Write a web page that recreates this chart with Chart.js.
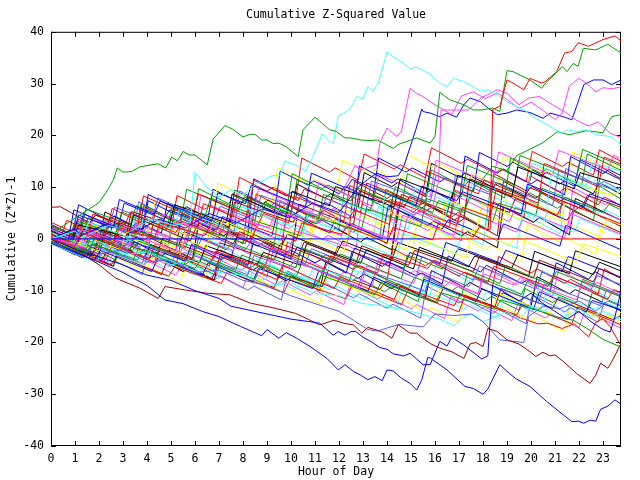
<!DOCTYPE html>
<html>
<head>
<meta charset="utf-8">
<script src="https://cdn.jsdelivr.net/npm/chart.js@4.4.0/dist/chart.umd.min.js"></script>
<style>
    html, body { margin: 0; padding: 0; background: #ffffff; }
    canvas { display: block; }
</style>
</head>
<body>
<canvas id="zChart" width="640" height="480"></canvas>
<script>
const chartTitle = "Cumulative Z-Squared Value";
const xTitle = "Hour of Day";
const yTitle = "Cumulative (Z*Z)-1";
const hourTicks = [0, 1, 2, 3, 4, 5, 6, 7, 8, 9, 10, 11, 12, 13, 14, 15, 16, 17, 18, 19, 20, 21, 22, 23];
const valueTicks = [-40, -30, -20, -10, 0, 10, 20, 30, 40];

// each series: [hour, cumulative value] vertices
const zeroBlue = [[0, 0], [15.8, 0]];
const zeroRed = [[15.8, 0], [23.75, 0]];

const greenHigh = [[0, 1], [0.5, 2.5], [1, 4], [1.5, 5.5], [2, 7], [2.3, 9], [2.6, 11.4], [2.76, 13.7], [3.0, 12.9], [3.36, 13.0], [3.7, 13.9], [4.05, 14.2], [4.47, 14.5], [4.78, 13.7], [5.03, 15.8], [5.26, 15.1], [5.51, 16.9], [5.75, 16.2], [6.0, 16.2], [6.51, 14.3], [6.76, 19.3], [7.25, 21.9], [7.6, 21.1], [8.0, 19.7], [8.3, 20.2], [8.5, 20.2], [8.78, 19.1], [9.0, 19.1], [9.26, 18.4], [9.5, 18.5], [9.82, 17.7], [10.3, 15.9], [10.5, 21.1], [11.0, 23.5], [11.28, 22.4], [11.6, 21.1], [11.87, 20.8], [12.25, 19.5], [12.5, 19.5], [12.9, 19.1], [13.3, 19.0], [13.6, 19.1], [14.26, 17.5], [14.5, 18.3], [15.24, 19.5], [15.8, 18.5], [16.0, 19.8], [16.2, 28.3], [16.6, 26.9], [17.2, 25.9], [17.6, 24.9], [17.95, 24.9], [18.4, 25.3], [18.7, 24.6], [19.0, 32.5], [19.25, 32.3], [19.96, 30.7], [20.45, 29.1], [20.6, 30.1], [21.07, 32.1], [21.3, 33.3], [21.5, 32.3], [21.76, 33.9], [21.96, 33.3], [22.18, 36.8], [22.7, 36.5], [23.2, 37.6], [23.75, 35.9]];
const redJump = [[0, 0], [1, -1.5], [1.25, 1.2], [2.6, -0.9], [2.85, 2.1], [4.3, 0.2], [4.55, 3.1], [6.4, 0.6], [6.65, 2.8], [8.3, -0.7], [8.55, 2.2], [10.2, -0.4], [10.45, 3.1], [12.1, 0.9], [12.35, 2.4], [14.0, -0.8], [14.25, 2.2], [15.9, -0.2], [16.15, 3.1], [17.6, 0.4], [17.85, 2.3], [18.3, 1.7], [18.4, 25.0], [18.7, 25.6], [19.0, 30.7], [19.25, 30.1], [19.7, 28.8], [19.96, 31.0], [20.45, 30.1], [20.6, 30.4], [21.07, 32.3], [21.4, 35.9], [21.7, 36.2], [21.97, 37.9], [22.4, 37.2], [23.0, 38.5], [23.5, 39.2], [23.75, 38.2]];
const cyanPeak = [[0, 0], [1, 1.5], [1.25, 0.2], [2.4, 2.6], [3.3, 1.4], [4.2, 3.9], [5.1, 2.6], [5.8, 3.2], [6.0, 12.8], [6.5, 10.0], [7.0, 8.1], [7.5, 9.5], [8.0, 8.5], [8.5, 10.5], [8.9, 11.4], [9.2, 12.2], [9.54, 12.2], [9.75, 15.1], [10.0, 14.6], [10.4, 13.9], [10.6, 13.0], [10.9, 15.7], [11.3, 20.3], [11.55, 19.1], [11.76, 18.4], [11.97, 23.8], [12.2, 24.3], [12.46, 25.1], [12.74, 27.5], [13.0, 27.0], [13.2, 29.4], [13.4, 28.6], [13.64, 30.1], [14.0, 36.1], [14.26, 35.2], [14.7, 33.9], [14.96, 32.9], [15.24, 33.2], [15.8, 31.8], [16.2, 30.1], [16.5, 29.4], [16.76, 31.0], [17.2, 30.4], [17.6, 29.4], [17.9, 28.5], [18.2, 28.8], [18.6, 27.8], [19.0, 26.5], [19.7, 24.9], [20.2, 23.3], [20.8, 21.7], [21.3, 20.4], [21.5, 21.1], [21.9, 20.7], [22.3, 21.1], [22.7, 20.1], [23.3, 19.8], [23.75, 18.2]];
const magentaHigh = [[0, 0], [1, -1.2], [1.25, 1.8], [2.8, -0.4], [3.05, 2.4], [4.9, 0.3], [5.15, 3.1], [7, 1.2], [7.25, 4.2], [9.1, 2.2], [9.35, 5.3], [11.2, 3.1], [11.45, 6.4], [12.2, 9.6], [12.67, 14.2], [12.9, 13.3], [13.15, 13.7], [13.57, 14.3], [13.7, 18.5], [14.0, 21.4], [14.4, 19.8], [14.6, 20.7], [14.96, 29.1], [15.24, 28.1], [15.5, 27.5], [15.8, 26.5], [16.3, 25.1], [16.7, 24.0], [17.1, 27.6], [17.6, 28.4], [18.1, 27.1], [18.6, 28.2], [19.0, 26.9], [19.5, 25.2], [20.0, 26.4], [20.5, 24.8], [21.0, 23.1], [21.3, 24.2], [21.6, 29.6], [22.0, 31.0], [22.3, 30.1], [22.7, 28.4], [23.0, 29.2], [23.4, 29.0], [23.75, 29.4]];
const magentaLate = [[0, 0.4], [1.3, -1.6], [1.55, 1.1], [3.2, -1.9], [3.45, 0.7], [5.4, -2.6], [5.65, 0.9], [7.6, -2.3], [7.85, 0.4], [9.9, -2.8], [10.15, 1.6], [12.3, -1.4], [12.55, 2.6], [14.6, -0.9], [14.85, 4.2], [15.9, 6.1], [16.15, 11.2], [16.25, 24.9], [17.4, 24.9], [17.9, 27.2], [18.6, 28.8], [19.0, 28.1], [19.5, 25.9], [19.9, 27.2], [20.35, 27.5], [20.9, 25.9], [21.4, 24.6], [21.9, 22.9], [22.4, 21.8], [22.8, 22.6], [23.3, 20.4], [23.75, 19.6]];
const blueHigh = [[0, 0], [1, 2], [1.25, 0.6], [2.3, 2.9], [3.4, 1.1], [4.5, 3.8], [5.6, 2.1], [6.6, 4.9], [7.7, 3.0], [8.8, 5.8], [9.9, 4.1], [10.9, 6.9], [12.0, 5.1], [12.8, 10.0], [13.2, 11.5], [13.57, 12.7], [14.0, 12.0], [14.47, 12.2], [14.7, 14.0], [15.2, 21.1], [15.45, 25.1], [15.5, 24.6], [15.8, 24.3], [16.2, 23.6], [16.5, 24.3], [16.9, 23.5], [17.2, 25.9], [17.46, 27.2], [17.9, 26.5], [18.2, 25.3], [18.6, 24.0], [19.0, 24.3], [19.4, 24.9], [19.96, 24.4], [20.5, 23.3], [20.8, 24.3], [21.35, 23.6], [21.7, 23.0], [21.9, 25.6], [22.2, 29.8], [22.6, 30.7], [23.0, 30.7], [23.36, 29.8], [23.75, 30.7]];
const greenLate = [[0, -0.5], [1.4, -2.9], [1.65, 0.3], [3.3, -2.1], [3.55, 1.6], [5.6, -1.8], [5.85, 2.4], [8.1, -0.9], [8.35, 3.7], [10.4, 0.6], [10.65, 4.9], [12.9, 1.3], [13.15, 5.8], [15.4, 2.4], [15.65, 7.8], [17.2, 5.1], [17.6, 9.8], [18.0, 11.6], [18.4, 14.0], [19.0, 13.2], [19.4, 16.1], [20.0, 17.4], [20.5, 18.6], [21.1, 20.7], [21.6, 20.1], [22.3, 20.9], [23.0, 20.5], [23.36, 23.6], [23.75, 24.0]];
const blueLowest = [[0, 0], [0.5, -1.5], [1, -2.5], [2, -4.5], [3, -6.5], [4, -9], [4.75, -11.8], [5.5, -12.5], [6.3, -14], [7, -15], [7.46, -16.0], [7.9, -16.9], [8.78, -18.7], [9.0, -17.5], [9.5, -19.2], [9.8, -18.1], [10.24, -19.2], [10.8, -20.8], [11.5, -23.1], [11.97, -25.3], [12.25, -24.3], [12.6, -25.6], [12.9, -26.3], [13.2, -27.2], [13.5, -26.6], [13.8, -27.4], [14.0, -25.3], [14.26, -25.5], [14.6, -26.9], [14.96, -27.9], [15.24, -29.2], [15.45, -27.2], [15.7, -22.9], [15.8, -23.0], [16.5, -25.3], [17.25, -28.5], [17.6, -28.9], [18.0, -30.0], [18.2, -29.0], [18.7, -24.3], [19.1, -26.0], [19.4, -27.1], [19.96, -28.5], [20.65, -31.4], [21.35, -34.0], [21.7, -35.3], [21.97, -35.2], [22.2, -35.6], [22.46, -35.0], [22.7, -35.2], [22.9, -32.9], [23.2, -32.3], [23.5, -31.1], [23.75, -31.9]];
const blueLow = [[0, 0], [1, -2], [2, -3.5], [3, -5], [4, -7], [5, -8], [6, -10], [7, -11.5], [7.5, -13], [9, -14.5], [10, -15.5], [10.8, -16.0], [11.2, -16.3], [11.76, -18.6], [11.97, -17.9], [12.25, -18.6], [12.5, -17.9], [12.7, -17.9], [13.0, -19.0], [13.4, -20.0], [13.7, -21.0], [14.0, -21.3], [14.26, -22.2], [14.7, -22.6], [14.96, -22.1], [15.24, -23.2], [15.5, -24.3], [15.8, -24.3], [16.2, -19.8], [16.5, -20.7], [16.7, -19.0], [17.2, -20.5], [17.95, -23.2], [18.2, -22.6], [18.4, -9], [18.8, -10], [19.5, -12], [20, -10.5], [20.5, -12.5], [21, -14], [21.5, -15.5], [22, -14], [22.5, -16], [23, -17.5], [23.3, -18], [23.5, -15], [23.75, -10]];
const darkRedLow = [[0, 0], [1, -2], [2, -5], [2.7, -7.6], [3.7, -9.5], [4.47, -11.5], [4.75, -9.2], [5.5, -9.8], [6.5, -10.5], [7.46, -10.8], [8.3, -12.4], [9.25, -13.3], [10.2, -14.4], [11.2, -16.6], [11.8, -15.7], [12.2, -16.3], [12.6, -16.6], [12.95, -18.2], [13.2, -17.1], [13.57, -17.6], [13.9, -18.2], [14.2, -19.2], [14.47, -16.6], [14.96, -18.2], [15.24, -18.2], [15.5, -19.2], [15.8, -20.2], [16.2, -21.1], [16.7, -21.8], [17.2, -23.1], [17.46, -20.3], [17.7, -20.0], [18.0, -20.8], [18.2, -17.3], [18.6, -17.9], [19.0, -19.5], [19.5, -20.3], [19.96, -21.8], [20.2, -22.7], [20.5, -21.9], [20.8, -22.6], [21.0, -22.4], [21.35, -23.7], [21.9, -26.0], [22.46, -27.9], [22.7, -26.3], [22.9, -24.0], [23.2, -25.0], [23.4, -23.4], [23.75, -20.2]];
const slateLow = [[0, 0], [1, -1], [2, -3], [3, -2], [4, -4.5], [5, -4], [6, -6.5], [7, -6], [8, -8], [9, -9], [10, -11], [11, -12.5], [12, -14], [12.6, -15.7], [13.2, -17.5], [13.6, -17.8], [14.5, -16.5], [15.5, -17], [16, -14.5], [16.8, -14.8], [17.5, -14.5], [18, -16], [18.7, -19.5], [19.7, -20], [19.9, -15], [20.5, -13], [21.2, -13.5], [22, -12], [22.7, -14], [23.2, -12], [23.75, -13]];
const cyanLow = [[0, 0], [1, -1.5], [2, -0.5], [3, -3], [4, -2.5], [5, -5], [6, -4], [7, -6.5], [8, -7], [9, -9], [10, -8.5], [11, -10.5], [12, -11], [13, -12.5], [14, -13], [15, -14], [15.8, -15], [16.2, -15.5], [16.8, -16.8], [17.2, -15], [17.6, -14.5], [18, -16], [18.5, -15], [19, -14], [19.5, -15.5], [20, -13], [20.5, -14], [21, -12.5], [21.5, -15], [22, -13.5], [22.5, -15], [23, -14], [23.75, -15.5]];
const greenLow = [[0, 0], [1.5, -2.5], [1.75, -1], [3.6, -4.1], [3.85, -2], [6, -5.7], [6.25, -3.9], [8.5, -7.8], [8.75, -5.2], [11, -9.3], [11.25, -7], [13.5, -10.8], [13.75, -8.4], [16, -12.3], [16.25, -10.4], [18.5, -13.6], [18.75, -11.8], [20.5, -14.1], [21.0, -15.0], [21.75, -15.7], [22.3, -17.2], [23.0, -19.4], [23.75, -20.9]];
const redLow = [[0, 0.5], [1.8, -2.7], [2.05, 0.2], [4.3, -4.6], [4.55, -1.8], [6.8, -6.3], [7.05, -3.4], [9.4, -7.8], [9.65, -5.1], [11.8, -9.6], [12.05, -7.3], [14.3, -11.7], [14.55, -9.1], [16.8, -12.9], [17.05, -10.8], [19, -14.2], [19.7, -15.5], [20.3, -16.4], [20.7, -16.3], [21.3, -17.3], [21.8, -16.4], [22.4, -18.9], [22.7, -16.1], [23.0, -15.4], [23.3, -17], [23.75, -20.6]];

const walk01 = [[0, 1], [0.7, -0.6], [0.95, 2.4], [2.2, 0.1], [2.45, 4.2], [3.1, 2.9], [3.3, 5.1], [5.2, 1.2], [5.45, 3.4], [6.1, 2.3], [6.35, 6.8], [8.6, 2.4], [8.85, 4.9], [9.9, 3.1], [10.15, 8.2], [12.4, 3.9], [12.65, 5.6], [14.1, 2.8], [14.35, 7.3], [16.9, 2.6], [17.15, 6.1], [18.3, 4.2], [18.55, 9.5], [21.1, 4.6], [21.35, 7.2], [23.75, 2.9]];
const walk02 = [[0, 0.3], [1.6, -2.8], [1.85, 0.9], [3.4, -2.2], [3.65, -0.4], [5.9, -4.6], [6.15, 0.2], [7.3, -2.1], [7.55, -0.8], [10.2, -5.6], [10.45, -1.7], [11.8, -4.2], [12.05, -2.9], [14.6, -7.7], [14.85, -3.1], [16.3, -5.8], [16.55, -4.4], [18.7, -8.6], [18.95, -5.1], [20.8, -8.9], [21.05, -6.3], [23.75, -11.2]];
const walk03 = [[0, 2.1], [0.9, 0.3], [1.15, 4.6], [2.6, 2.1], [2.85, 7.6], [4.3, 4.8], [4.55, 7.3], [6.7, 3.4], [6.95, 8.9], [8.1, 6.8], [8.35, 10.4], [10.6, 6.1], [10.85, 12.7], [12.3, 9.8], [12.55, 11.5], [15.2, 6.4], [15.45, 10.2], [16.9, 7.4], [17.15, 9.1], [19.6, 4.8], [19.85, 10.6], [22.2, 6.2], [22.45, 8.7], [23.75, 6.5]];
const walk04 = [[0, 0.6], [2.1, -3.2], [2.35, -0.7], [4.4, -4.6], [4.65, -2.3], [5.7, -4.1], [5.95, -1.2], [8.8, -6.7], [9.05, -3.9], [10.1, -5.8], [10.35, -4.6], [12.9, -9.4], [13.15, -5.2], [15.1, -8.6], [15.35, -6.1], [17.8, -10.7], [18.05, -6.8], [19.3, -8.9], [19.55, -7.5], [21.9, -11.8], [22.15, -8.1], [23.75, -11.1]];
const walk05 = [[0, 1.2], [1.3, -1.1], [1.55, 3.2], [3.6, -0.3], [3.85, 4.1], [5.1, 1.8], [5.35, 5.7], [7.7, 1.3], [7.95, 6.4], [9.3, 3.8], [9.55, 5.9], [11.9, 1.6], [12.15, 7.2], [13.7, 4.4], [13.95, 8.8], [16.4, 3.7], [16.65, 9.3], [18.1, 6.6], [18.35, 8.2], [20.6, 3.9], [20.85, 12.4], [22.4, 9.7], [22.65, 11.3], [23.75, 9.2]];
const walk06 = [[0, 6.1], [0.4, 6.2], [1.6, 3.1], [1.85, 4.6], [3.7, 1.2], [3.95, 3.3], [5.8, -0.4], [6.05, 2.2], [7.6, -0.9], [7.85, 1.4], [10.3, -3.4], [10.55, -0.6], [12.7, -4.8], [12.95, -1.3], [14.9, -5.1], [15.15, -2.2], [17.6, -6.3], [17.85, -3.4], [20.1, -7.6], [20.35, -4.1], [22.6, -8.3], [22.85, -5.7], [23.75, -7.6]];
const walk07 = [[0, -0.2], [1.1, -2.3], [1.35, 0.6], [2.9, -2.1], [3.15, 1.4], [5.4, -2.8], [5.65, 2.7], [6.9, 0.2], [7.15, 3.6], [9.7, -1.4], [9.95, 1.9], [12.2, -2.6], [12.45, 2.3], [14.8, -2.1], [15.05, 0.8], [17.3, -3.7], [17.55, 1.8], [19.1, -1.2], [19.35, 0.4], [21.9, -4.6], [22.15, -0.9], [23.75, -3.4]];
const walk08 = [[0, -0.6], [1.4, -3.6], [1.65, -1.1], [3.8, -4.7], [4.05, -1.4], [5.3, -3.5], [5.55, -2.6], [8.2, -6.9], [8.45, -3.2], [9.9, -5.6], [10.15, -4.3], [12.8, -9.3], [13.05, -5.9], [15.6, -10.1], [15.85, -6.2], [17.4, -9.2], [17.65, -7.7], [20.3, -12.4], [20.55, -8.7], [22.9, -12.9], [23.15, -9.8], [23.75, -11]];
const walk09 = [[0, 1.6], [0.9, -0.4], [1.15, 2.7], [3.2, 0.4], [3.45, 4.6], [4.9, 2.2], [5.15, 6.6], [7.3, 3.1], [7.55, 8.7], [9.8, 4.3], [10.05, 9.2], [11.6, 6.4], [11.85, 10.1], [14.3, 6.2], [14.55, 11.6], [16.7, 7.8], [16.95, 12.3], [19.2, 8.1], [19.45, 13.9], [21.8, 9.7], [22.05, 12.8], [23.75, 10.4]];
const walk10 = [[0, -0.3], [2.3, -3.9], [2.55, -1.2], [4.1, -3.8], [4.35, -0.9], [6.6, -5.2], [6.85, -2.4], [8.9, -5.6], [9.15, -1.7], [11.4, -5.9], [11.65, -3.3], [13.6, -6.6], [13.85, -2.9], [15.7, -5.7], [15.95, -4.1], [18.2, -8.4], [18.45, -5.3], [20.7, -9.2], [20.95, -7.1], [23.2, -11.6], [23.45, -9.8], [23.75, -10.4]];
const walk11 = [[0, 0.8], [0.8, -0.5], [1.05, 3.4], [2.7, 1.1], [2.95, 5.2], [4.8, 1.7], [5.05, 6.3], [6.4, 4.1], [6.65, 7.9], [8.7, 4.2], [8.95, 6.8], [11.1, 2.9], [11.35, 8.6], [13.3, 5.4], [13.55, 9.8], [15.9, 5.1], [16.15, 7.4], [18.4, 3.3], [18.65, 6.9], [20.2, 4.6], [20.45, 9.8], [23, 5.1], [23.25, 6.7], [23.75, 5.6]];
const walk12 = [[0, -0.8], [1.8, -4.1], [2.05, -2.2], [4.2, -6.3], [4.45, -3.7], [6.3, -7.1], [6.55, -4.6], [8.4, -8.3], [8.65, -5.7], [10.9, -9.6], [11.15, -6.2], [13.2, -10.1], [13.45, -7.4], [15.3, -11.2], [15.55, -7.8], [17.7, -12.1], [17.95, -9.6], [20.1, -13.6], [20.35, -10.2], [22.3, -14.1], [22.55, -11.9], [23.75, -13.7]];
const walk13 = [[0, 0.1], [1.2, -1.9], [1.45, 1.6], [3.3, -1.3], [3.55, 2.9], [5.6, -0.8], [5.85, 3.7], [7.9, 0.2], [8.15, 2.3], [9.6, -0.3], [9.85, 4.4], [12.1, 0.6], [12.35, 3.1], [14.4, -0.4], [14.65, 4.6], [16.8, 0.7], [17.05, 5.9], [19.4, 1.3], [19.65, 3.6], [21.4, 0.2], [21.65, 4.9], [23.75, 0.9]];
const walk14 = [[0, -1], [1.9, -4.6], [2.15, -2.1], [3.9, -5.2], [4.15, -2.7], [6.2, -6.5], [6.45, -4.4], [8.3, -7.6], [8.55, -3.8], [10.7, -8.1], [10.95, -5.3], [12.6, -7.9], [12.85, -6.2], [15.4, -11.2], [15.65, -8.3], [17.9, -12.4], [18.15, -10.1], [20.4, -13.9], [20.65, -10.3], [22.7, -13.6], [22.95, -12.2], [23.75, -13.5]];
const walk15 = [[0, 2.4], [1.4, -0.2], [1.65, 2.1], [3.1, -0.1], [3.35, 5.3], [5.7, 1.6], [5.95, 4.2], [7.4, 1.9], [7.65, 7.1], [10.1, 3.2], [10.35, 6.7], [12.6, 2.6], [12.85, 9.3], [14.7, 6.1], [14.95, 8.2], [17.2, 4.1], [17.45, 11.6], [19.7, 7.8], [19.95, 9.9], [22.1, 5.8], [22.35, 8.4], [23.75, 6.1]];
const walk16 = [[0, 0.5], [2.4, -2.9], [2.65, 1.3], [4.6, -2.4], [4.85, 1.1], [6.5, -1.7], [6.75, 3.9], [9.1, -0.6], [9.35, 4.8], [11.7, 0.9], [11.95, 6.2], [13.9, 2.7], [14.15, 5.1], [16.2, 1.3], [16.45, 7.6], [18.8, 3.4], [19.05, 8.7], [21.3, 4.6], [21.55, 11.2], [23.4, 8.3], [23.75, 9.4]];
const walk17 = [[0, 1.3], [1.0, -0.7], [1.25, 3.7], [2.4, 1.9], [2.65, 6.1], [4.2, 3.4], [4.45, 7.9], [6.8, 3.2], [7.05, 6.3], [8.5, 3.6], [8.75, 8.4], [11.2, 4.4], [11.45, 7.8], [13.1, 4.7], [13.35, 11.2], [15.8, 7.1], [16.05, 12.3], [18.3, 8.6], [18.55, 10.9], [20.9, 6.4], [21.15, 13.1], [23.5, 9.4], [23.75, 10.2]];
const walk18 = [[0, -0.1], [1.7, -3.3], [1.95, -0.2], [3.9, -3.6], [4.15, -1.1], [6.2, -4.6], [6.45, -1.3], [8.6, -4.9], [8.85, -2.6], [10.4, -5.1], [10.65, -0.9], [12.9, -4.7], [13.15, -2.1], [15.1, -5.8], [15.35, -1.6], [17.4, -5.4], [17.65, -3.3], [19.9, -7.2], [20.15, -2.4], [22.6, -6.9], [22.85, -4.5], [23.75, -6.2]];
const walk19 = [[0, 3.2], [1.5, 0.1], [1.75, 4.8], [3.6, 1.9], [3.85, 8.3], [5.9, 4.1], [6.15, 8.7], [8.2, 4.6], [8.45, 11.3], [10.3, 7.4], [10.55, 9.6], [12.9, 5.1], [13.15, 10.8], [15.4, 6.6], [15.65, 13.1], [17.8, 8.7], [18.05, 11.4], [20.3, 6.9], [20.55, 14.6], [22.8, 10.1], [23.05, 15.8], [23.75, 14.4]];
const walk20 = [[0, -0.4], [1.3, -2.7], [1.55, -0.3], [3.4, -4.4], [3.65, -1.8], [5.5, -5.6], [5.75, -2.2], [7.7, -5.9], [7.95, -3.1], [10.2, -7.4], [10.45, -4.7], [12.4, -8.3], [12.65, -5.2], [14.9, -9.6], [15.15, -7.4], [17.1, -11.1], [17.35, -6.6], [19.6, -10.7], [19.85, -8.2], [21.9, -12.3], [22.15, -7.8], [23.75, -10.9]];
const walk21 = [[0, 0.4], [0.7, -0.8], [0.95, 5.6], [2.8, 2.1], [3.05, 6.9], [4.7, 3.8], [4.95, 5.6], [6.9, 1.7], [7.15, 4.3], [9.2, 0.6], [9.45, 5.4], [11.6, 1.2], [11.85, 3.8], [13.8, 0.1], [14.05, 6.4], [16.3, 1.9], [16.55, 3.7], [18.6, -0.3], [18.85, 2.9], [21.2, -1.4], [21.45, 2.6], [23.75, -2.1]];
const walk22 = [[0, 1.9], [1.9, -1.3], [2.15, 3.4], [4.4, -0.2], [4.65, 4.7], [6.6, 1.3], [6.85, 6.1], [9.2, 1.8], [9.45, 7.6], [11.5, 3.4], [11.75, 5.9], [14.2, 0.9], [14.45, 6.6], [16.6, 2.2], [16.85, 8.4], [19.1, 3.3], [19.35, 6.1], [21.6, 1.9], [21.85, 7.3], [23.75, 3.6]];
const walk23 = [[0, 0.2], [0.9, -1.4], [1.15, 0.9], [3.1, -3.2], [3.35, 0.4], [5.2, -3.1], [5.45, 1.9], [7.6, -2.2], [7.85, 0.6], [9.4, -2.1], [9.65, 3.2], [11.9, -1.4], [12.15, 0.8], [14.4, -3.6], [14.65, 1.1], [16.9, -2.9], [17.15, 2.6], [19.4, -1.8], [19.65, 5.2], [21.8, 1.3], [22.05, 3.9], [23.75, 0.7]];
const walk24 = [[0, -0.6], [2.1, -4.2], [2.35, -2.3], [4.6, -6.9], [4.85, -4.1], [6.7, -7.8], [6.95, -5.1], [9.3, -9.4], [9.55, -6.7], [11.3, -9.2], [11.55, -6.1], [13.7, -9.8], [13.95, -8.1], [16.1, -12.3], [16.35, -9.4], [18.5, -13.1], [18.75, -9.6], [20.9, -13.4], [21.15, -11.2], [23.4, -15.6], [23.75, -14.8]];
const walk25 = [[0, 1.1], [1.4, -1.2], [1.65, 2.8], [3.9, -0.7], [4.15, 3.2], [5.8, 0.6], [6.05, 5.1], [8.4, 0.9], [8.65, 3.6], [10.8, -0.6], [11.05, 4.8], [13.3, 0.7], [13.55, 2.9], [15.7, -1.4], [15.95, 4.2], [17.7, 1.1], [17.95, 6.7], [20.4, 2.3], [20.65, 4.6], [22.9, 0.4], [23.15, 3.8], [23.75, 2.7]];
const walk26 = [[0, 0], [1.6, -2.4], [1.85, 1.7], [3.7, -1.6], [3.95, 2.3], [6.1, -1.9], [6.35, 1.1], [8.1, -2.1], [8.35, -0.4], [10.6, -4.8], [10.85, -1.9], [12.7, -5.3], [12.95, -3.1], [15.2, -7.6], [15.45, -3.4], [17.6, -7.9], [17.85, -5.2], [20.2, -9.7], [20.45, -6.4], [22.5, -9.9], [22.75, -7.1], [23.75, -8.8]];
const walk27 = [[0, 0.9], [1.1, -1.1], [1.35, 1.9], [2.6, -0.2], [2.85, 3.1], [5.3, -1.3], [5.55, 1.4], [7.2, -1.7], [7.45, 2.8], [9.6, -1.4], [9.85, 0.9], [11.9, -2.8], [12.15, -0.4], [14.2, -4.1], [14.45, -0.7], [16.7, -4.3], [16.95, -1.9], [19.2, -5.6], [19.45, -3.1], [21.6, -6.7], [21.85, -2.3], [23.75, -5.4]];
const walk28 = [[0, -1], [2.5, -5.1], [2.75, -3.3], [4.9, -7.2], [5.15, -5.4], [7.1, -8.6], [7.35, -6.3], [9.7, -10.4], [9.95, -7.9], [12.3, -11.6], [12.55, -8.8], [14.6, -12.7], [14.85, -10.2], [17, -14.1], [17.25, -10.9], [19.4, -14.7], [19.65, -12.6], [21.7, -16.4], [21.95, -13.1], [23.75, -16.6]];
const walk29 = [[0, 2.6], [1.2, 0.4], [1.45, 5.8], [3.3, 2.7], [3.55, 6.4], [5.4, 3.1], [5.65, 9.6], [7.8, 5.4], [8.05, 8.1], [10, 4.8], [10.25, 11.4], [12.5, 7.3], [12.75, 9.9], [14.6, 6.2], [14.85, 12.6], [17.1, 8.1], [17.35, 14.2], [19.3, 10.4], [19.55, 16.1], [21.9, 11.8], [22.15, 17.3], [23.75, 14.1]];
const walk30 = [[0, -0.2], [1.3, -2.6], [1.55, 0.3], [3.2, -2.8], [3.45, -0.6], [5.6, -4.3], [5.85, -1.1], [7.5, -3.7], [7.75, 0.3], [10, -3.9], [10.25, -1.6], [12.4, -5.4], [12.65, -1.8], [14.7, -5.7], [14.95, -2.6], [16.2, -4.8], [16.45, -0.7], [18.7, -4.6], [18.95, -2.2], [21.3, -6.3], [21.55, -3.4], [23.75, -7.4]];
const walk31 = [[0, 1.4], [1.5, -0.9], [1.75, 3.9], [3.5, 0.8], [3.75, 6.2], [6, 2.1], [6.25, 8.4], [8.4, 4.1], [8.65, 9.7], [10.9, 5.2], [11.15, 10.9], [13.4, 6.3], [13.65, 12.4], [15.8, 8.1], [16.05, 15.2], [18.4, 10.6], [18.65, 16.8], [20.9, 12.2], [21.15, 17.1], [23.2, 13.4], [23.45, 16.2], [23.75, 15.4]];
const walk32 = [[0, 0.7], [1.2, -1.5], [1.45, 2.6], [3.2, -0.4], [3.45, 5.3], [5.3, 2.1], [5.55, 4.4], [7.4, 1.2], [7.65, 6.7], [9.9, 2.6], [10.15, 8.2], [12.4, 4.1], [12.65, 6.3], [14.9, 1.9], [15.15, 9.8], [17.3, 5.7], [17.55, 11.4], [19.8, 7.2], [20.05, 14.6], [22.3, 10.2], [22.55, 14.7], [23.75, 13.1]];
const walk33 = [[0, 0.3], [2, -2.9], [2.25, 0.6], [4.4, -3.3], [4.65, 0.2], [6.8, -3.6], [7.05, -0.8], [9.3, -4.1], [9.55, -0.9], [11.7, -4.6], [11.95, -1.4], [14.1, -5.2], [14.35, 1.6], [14.6, 8.6], [16.5, 4.9], [16.75, 9.2], [19.1, 5.1], [19.35, 7.8], [21.5, 3.6], [21.75, 5.4], [23.75, 1.2]];
const walk34 = [[0, -0.5], [1.8, -3.6], [2.05, -1.9], [4, -5.3], [4.25, -3.6], [6.4, -7.4], [6.65, -4.8], [8.7, -8.1], [8.95, -5.6], [11.2, -9.7], [11.45, -7.1], [13.6, -11.3], [13.85, -8.2], [16, -12.1], [16.25, -9.1], [18.4, -13.2], [18.65, -10.6], [20.8, -14.3], [21.05, -11.8], [23.3, -15.4], [23.75, -14.2]];
const walk35 = [[0, 0.2], [0.5, -0.9], [0.75, 1.8], [1.3, 0.6], [1.55, 4.1], [2.4, 2.2], [2.65, 3.0], [3.5, 0.9], [3.75, 6.8], [4.9, 4.1], [5.15, 5.2], [5.9, 3.3], [6.15, 9.7], [7.4, 6.8], [7.65, 8.3], [8.7, 5.9], [8.95, 7.1], [9.8, 4.8], [10.05, 12.6], [11.3, 9.7], [11.55, 10.4], [12.6, 7.9], [12.85, 8.8], [14.1, 5.6], [14.35, 10.1], [15.6, 7.2], [15.85, 13.3], [17.2, 10.1], [17.45, 11.4], [18.9, 7.9], [19.15, 15.6], [20.4, 12.7], [20.65, 13.5], [22.1, 10.2], [22.35, 16.4], [23.75, 13.2]];
const walk36 = [[0, -0.3], [0.6, -1.6], [0.85, -0.9], [1.9, -3.4], [2.15, 0.8], [3.1, -1.4], [3.35, -0.2], [4.6, -3.3], [4.85, -2.6], [5.6, -4.4], [5.85, -1.1], [7.1, -4.0], [7.35, -3.2], [8.2, -5.1], [8.45, -0.3], [9.7, -3.2], [9.95, -2.1], [11.0, -4.6], [11.25, -4.0], [12.3, -6.6], [12.55, -2.4], [13.8, -5.3], [14.05, -4.4], [15.2, -7.1], [15.45, -6.6], [16.3, -8.7], [16.55, -3.3], [17.9, -6.4], [18.15, -5.1], [19.6, -8.6], [19.85, -7.9], [20.8, -10.1], [21.05, -4.6], [22.4, -7.8], [22.65, -6.3], [23.75, -9.1]];
const walk37 = [[0, 0.9], [0.4, 0.0], [0.65, 3.6], [1.7, 1.3], [1.95, 2.1], [3.0, -0.3], [3.25, 1.2], [4.1, -0.9], [4.35, 5.4], [5.6, 2.6], [5.85, 3.3], [7.0, 0.7], [7.25, 2.4], [8.3, -0.1], [8.55, 8.7], [9.6, 6.1], [9.85, 6.9], [11.1, 3.8], [11.35, 5.6], [12.2, 3.4], [12.45, 10.3], [13.9, 6.9], [14.15, 7.6], [15.1, 5.1], [15.35, 6.2], [16.6, 3.1], [16.85, 9.4], [18.2, 6.2], [18.45, 7.1], [19.7, 4.1], [19.95, 12.2], [21.2, 9.1], [21.45, 9.9], [22.8, 6.6], [23.05, 8.1], [23.75, 6.4]];
const walk38 = [[0, 0.1], [0.9, -2.0], [1.15, -1.4], [2.0, -3.5], [2.25, 1.9], [3.3, -0.6], [3.55, 0.3], [4.8, -2.7], [5.05, -1.9], [5.9, -3.8], [6.15, 3.1], [7.2, 0.6], [7.45, 1.4], [8.6, -1.4], [8.85, -0.7], [10.0, -3.4], [10.25, 4.4], [11.6, 1.1], [11.85, 2.1], [12.9, -0.6], [13.15, 0.3], [14.2, -2.1], [14.45, 5.6], [15.7, 2.6], [15.95, 3.4], [17.1, 0.6], [17.35, 1.4], [18.6, -1.7], [18.85, 6.2], [20.1, 3.2], [20.35, 4.1], [21.6, 0.8], [21.85, 7.8], [23.75, 3.6]];
const walk39 = [[0, -0.7], [1.0, -2.7], [1.25, -2.1], [2.2, -4.3], [2.45, -0.6], [3.6, -3.4], [3.85, -2.6], [5.0, -5.4], [5.25, -1.3], [6.6, -4.4], [6.85, -3.6], [7.9, -6.1], [8.15, -5.4], [9.0, -7.3], [9.25, -2.2], [10.6, -5.3], [10.85, -4.4], [12.0, -7.1], [12.25, -6.3], [13.4, -8.9], [13.65, -3.8], [14.9, -6.9], [15.15, -6.1], [16.4, -9.1], [16.65, -8.2], [17.8, -10.6], [18.05, -5.6], [19.4, -8.8], [19.65, -8.0], [20.9, -11.1], [21.15, -5.9], [22.5, -9.2], [22.75, -8.4], [23.75, -10.6]];
const walk40 = [[0, 0.4], [0.7, -0.8], [0.95, 2.2], [2.1, -0.4], [2.35, 0.7], [3.2, -1.3], [3.45, 3.6], [4.7, 0.6], [4.95, 1.3], [6.0, -1.1], [6.25, 5.2], [7.6, 2.1], [7.85, 3.0], [9.0, 0.2], [9.25, 0.9], [10.4, -1.8], [10.65, 4.6], [12.0, 1.4], [12.25, 2.2], [13.4, -0.6], [13.65, 6.3], [15.0, 3.2], [15.25, 3.9], [16.6, 0.6], [16.85, 1.5], [18.0, -1.2], [18.25, 6.8], [19.6, 3.5], [19.85, 4.4], [21.2, 1.0], [21.45, 8.1], [22.8, 4.9], [23.05, 5.7], [23.75, 4.1]];
const walk41 = [[0, 0.5], [1.2, -1.9], [1.45, -1.0], [2.3, -2.9], [2.55, 2.6], [3.8, -0.4], [4.05, 0.4], [5.2, -2.3], [5.45, 4.9], [6.8, 1.8], [7.05, 2.6], [8.2, -0.2], [8.45, 0.8], [9.6, -2.1], [9.85, 6.6], [11.2, 3.3], [11.45, 4.2], [12.6, 1.3], [12.85, 2.2], [14.0, -0.9], [14.25, 8.4], [15.6, 5.2], [15.85, 6.1], [17.0, 3.2], [17.25, 4.1], [18.6, 0.6], [18.85, 11.1], [20.2, 7.9], [20.45, 8.8], [21.8, 5.4], [22.05, 6.3], [23.75, 2.4]];
const walk42 = [[0, -0.3], [0.8, -1.9], [1.05, 0.6], [2.4, -2.2], [2.65, -1.4], [3.6, -3.6], [3.85, 1.4], [5.1, -1.6], [5.35, -0.8], [6.4, -3.3], [6.65, 2.3], [7.9, -0.6], [8.15, 0.2], [9.3, -2.6], [9.55, -1.8], [10.6, -4.2], [10.85, 2.9], [12.2, -0.3], [12.45, 0.6], [13.6, -2.2], [13.85, -1.3], [15.0, -4.0], [15.25, 3.6], [16.6, 0.3], [16.85, 1.2], [18.1, -2.1], [18.35, -1.2], [19.6, -4.3], [19.85, 2.8], [21.2, -0.6], [21.45, 0.3], [22.7, -3.0], [22.95, 3.1], [23.75, 1.2]];
const walk43 = [[0, 1.8], [0.8, 0.1], [1.05, 4.4], [2.1, 2.1], [2.35, 2.9], [3.4, 0.4], [3.65, 7.2], [4.9, 4.1], [5.15, 4.9], [6.2, 2.2], [6.45, 3.1], [7.6, 0.4], [7.85, 9.3], [9.1, 6.2], [9.35, 7.0], [10.6, 3.9], [10.85, 4.7], [12.0, 1.9], [12.25, 10.1], [13.6, 6.8], [13.85, 7.7], [15.1, 4.6], [15.35, 5.4], [16.6, 2.3], [16.85, 12.4], [18.2, 9.1], [18.45, 9.9], [19.7, 6.6], [19.95, 7.4], [21.2, 4.1], [21.45, 13.6], [22.8, 10.3], [23.05, 11.1], [23.75, 9.4]];
const walk44 = [[0, -0.9], [1.3, -3.6], [1.55, -2.8], [2.6, -5.3], [2.85, -1.1], [4.0, -4.0], [4.25, -3.2], [5.5, -6.3], [5.75, -5.5], [6.8, -8.0], [7.05, -2.9], [8.4, -6.1], [8.65, -5.3], [9.8, -8.1], [10.05, -7.3], [11.2, -10.0], [11.45, -4.4], [12.8, -7.6], [13.05, -6.8], [14.2, -9.6], [14.45, -8.7], [15.6, -11.4], [15.85, -6.1], [17.2, -9.3], [17.45, -8.4], [18.6, -11.2], [18.85, -10.4], [20.0, -13.1], [20.25, -7.3], [21.6, -10.6], [21.85, -9.8], [23.75, -13.9]];
const walk45 = [[0, 1.2], [0.9, -0.6], [1.15, 0.3], [2.0, -1.8], [2.25, 3.6], [3.5, 0.6], [3.75, 1.4], [4.9, -1.2], [5.15, 5.8], [6.5, 2.6], [6.75, 3.4], [7.9, 0.8], [8.15, 1.6], [9.3, -1.2], [9.55, 7.4], [10.9, 4.1], [11.15, 4.9], [12.3, 2.2], [12.55, 3.0], [13.7, 0.2], [13.95, 9.6], [15.3, 6.3], [15.55, 7.1], [16.7, 4.2], [16.95, 5.1], [18.1, 2.1], [18.35, 11.3], [19.7, 8.1], [19.95, 8.9], [21.1, 5.9], [21.35, 6.7], [22.6, 3.5], [22.85, 10.2], [23.75, 7.7]];
const walk46 = [[0, -0.4], [1.1, -2.6], [1.35, 0.9], [2.6, -2.1], [2.85, -1.3], [4.0, -4.0], [4.25, -3.2], [5.2, -5.4], [5.45, 0.3], [6.8, -2.9], [7.05, -2.1], [8.2, -4.9], [8.45, -4.1], [9.6, -6.9], [9.85, -0.6], [11.2, -3.9], [11.45, -3.1], [12.6, -5.9], [12.85, -5.1], [14.0, -7.9], [14.25, -1.9], [15.6, -5.2], [15.85, -4.4], [17.0, -7.2], [17.25, -6.4], [18.4, -9.1], [18.65, -3.4], [20.0, -6.6], [20.25, -5.8], [21.4, -8.6], [21.65, -7.8], [22.8, -10.6], [23.05, -5.8], [23.75, -7.6]];
const walk47 = [[0, 2.8], [0.9, 0.8], [1.15, 6.6], [2.4, 3.6], [2.65, 4.4], [3.8, 1.7], [4.05, 8.6], [5.4, 5.4], [5.65, 6.2], [6.8, 3.4], [7.05, 4.2], [8.2, 1.4], [8.45, 11.6], [9.8, 8.3], [10.05, 9.1], [11.2, 6.2], [11.45, 7.0], [12.6, 4.1], [12.85, 14.1], [14.2, 10.8], [14.45, 11.6], [15.6, 8.7], [15.85, 9.5], [17.0, 6.6], [17.25, 16.0], [18.6, 12.7], [18.85, 13.5], [20.0, 10.6], [20.25, 11.4], [21.4, 8.5], [21.65, 15.9], [23.0, 12.6], [23.25, 13.4], [23.75, 12.2]];
const walk48 = [[0, 0.3], [1.0, -1.8], [1.25, 2.6], [2.5, -0.4], [2.75, 0.4], [3.9, -2.3], [4.15, 4.1], [5.5, 0.9], [5.75, 1.7], [6.9, -1.1], [7.15, -0.3], [8.3, -3.0], [8.55, 5.2], [9.9, 2.0], [10.15, 2.8], [11.3, -0.1], [11.55, 0.7], [12.7, -2.1], [12.95, 6.8], [14.3, 3.6], [14.55, 4.4], [15.7, 1.6], [15.95, 2.4], [17.1, -0.4], [17.35, 8.6], [18.7, 5.3], [18.95, 6.1], [20.1, 3.3], [20.35, 4.1], [21.5, 1.2], [21.75, 9.9], [23.1, 6.6], [23.35, 7.4], [23.75, 6.4]];
const walk49 = [[0, -0.2], [1.2, -2.8], [1.45, -2.0], [2.6, -4.7], [2.85, -0.4], [4.2, -3.6], [4.45, -2.8], [5.6, -5.6], [5.85, -4.8], [7.0, -7.6], [7.25, -1.9], [8.6, -5.2], [8.85, -4.4], [10.0, -7.2], [10.25, -6.4], [11.4, -9.2], [11.65, -3.6], [13.0, -6.9], [13.25, -6.1], [14.4, -8.9], [14.65, -8.1], [15.8, -10.9], [16.05, -4.9], [17.4, -8.2], [17.65, -7.4], [18.8, -10.2], [19.05, -9.4], [20.2, -12.2], [20.45, -6.1], [21.8, -9.4], [22.05, -8.6], [23.75, -12.6]];
const walk50 = [[0, 1.0], [0.8, -0.7], [1.05, 3.1], [2.2, 0.6], [2.45, 1.4], [3.6, -1.3], [3.85, 6.3], [5.2, 3.1], [5.45, 3.9], [6.6, 1.1], [6.85, 1.9], [8.0, -0.9], [8.25, 8.2], [9.6, 4.9], [9.85, 5.7], [11.0, 2.9], [11.25, 3.7], [12.4, 0.8], [12.65, 11.1], [14.0, 7.8], [14.25, 8.6], [15.4, 5.8], [15.65, 6.6], [16.8, 3.6], [17.05, 4.4], [18.2, 1.6], [18.45, 12.6], [19.8, 9.3], [20.05, 10.1], [21.2, 7.2], [21.45, 8.0], [22.6, 5.1], [22.85, 14.1], [23.75, 11.6]];
const walk51 = [[0, -0.8], [1.0, -3.1], [1.25, -2.3], [2.4, -5.0], [2.65, -4.2], [3.8, -6.9], [4.05, -2.6], [5.4, -5.9], [5.65, -5.1], [6.8, -7.9], [7.05, -7.1], [8.2, -9.9], [8.45, -9.1], [9.6, -11.8], [9.85, -6.2], [11.2, -9.4], [11.45, -8.6], [12.6, -11.4], [12.85, -10.6], [14.0, -13.4], [14.25, -12.6], [15.4, -15.3], [15.65, -9.1], [17.0, -12.4], [17.25, -11.6], [18.4, -14.4], [18.65, -13.6], [19.8, -16.4], [20.05, -10.8], [21.4, -14.1], [21.65, -13.3], [22.8, -16.1], [23.05, -12.2], [23.75, -13.9]];
const walk52 = [[0, -0.1], [1.2, -2.6], [1.45, -1.8], [2.6, -4.6], [2.85, -3.8], [4.0, -6.6], [4.25, -5.8], [5.4, -8.5], [5.65, -3.4], [7.0, -6.6], [7.25, -5.8], [8.4, -8.6], [8.65, -7.8], [9.8, -10.6], [10.05, -9.8], [11.2, -12.6], [11.45, -6.9], [12.8, -10.2], [13.05, -9.4], [14.2, -12.1], [14.45, -11.3], [15.6, -14.1], [15.85, -13.3], [17.0, -16.1], [17.25, -10.6], [18.6, -13.9], [18.85, -13.1], [20.0, -15.9], [20.25, -15.1], [21.4, -17.9], [21.65, -12.4], [23.0, -15.7], [23.25, -14.9], [23.75, -16.0]];
const walk53 = [[0, 0.6], [0.6, -0.5], [0.85, 2.9], [1.7, 1.2], [1.95, 4.6], [3.2, 1.8], [3.45, 2.7], [4.1, 1.1], [4.35, 7.9], [5.3, 5.6], [5.55, 6.4], [6.7, 3.9], [6.95, 10.8], [8.1, 8.2], [8.35, 8.9], [9.2, 6.8], [9.45, 13.7], [10.6, 11.1], [10.85, 11.8], [11.9, 9.3], [12.15, 15.2], [13.3, 12.6], [13.55, 13.4], [14.6, 10.8], [14.85, 16.3], [16.0, 13.6], [16.25, 14.4], [17.4, 11.6], [17.65, 12.5], [18.6, 10.2], [18.85, 15.9], [20.1, 13.0], [20.35, 13.8], [21.5, 11.1], [21.75, 16.8], [23.0, 13.9], [23.25, 14.6], [23.75, 13.5]];
const walk54 = [[0, 1.5], [0.9, -0.3], [1.15, 3.8], [2.3, 1.1], [2.55, 5.9], [3.7, 3.2], [3.95, 4.0], [5.0, 1.6], [5.25, 8.4], [6.4, 5.7], [6.65, 6.5], [7.6, 4.2], [7.85, 11.9], [9.0, 9.2], [9.25, 10.0], [10.2, 7.7], [10.45, 15.6], [11.6, 12.9], [11.85, 13.7], [12.8, 11.3], [13.05, 16.4], [14.3, 13.5], [14.55, 14.3], [15.6, 11.8], [15.85, 17.6], [17.1, 14.6], [17.35, 15.4], [18.5, 12.7], [18.75, 13.5], [19.8, 11.0], [20.05, 16.9], [21.3, 14.0], [21.55, 14.8], [22.6, 12.3], [22.85, 17.2], [23.75, 15.0]];
const walk55 = [[0, 0.9], [1.1, -1.0], [1.35, 4.9], [2.5, 2.2], [2.75, 3.0], [3.8, 0.6], [4.05, 7.4], [5.2, 4.7], [5.45, 5.5], [6.5, 3.0], [6.75, 9.6], [7.9, 6.9], [8.15, 7.7], [9.3, 5.0], [9.55, 13.1], [10.7, 10.4], [10.95, 11.2], [12.0, 8.7], [12.25, 10.2], [13.4, 7.5], [13.65, 15.6], [14.8, 12.9], [15.05, 13.7], [16.2, 11.0], [16.45, 11.8], [17.6, 9.1], [17.85, 16.7], [19.0, 14.0], [19.25, 14.8], [20.4, 12.1], [20.65, 12.9], [21.8, 10.2], [22.05, 15.3], [23.75, 11.4]];
const walk56 = [[0, 0.2], [0.7, -1.1], [0.95, 2.4], [2.0, 0.0], [2.25, 5.2], [3.4, 2.5], [3.65, 3.3], [4.6, 1.1], [4.85, 6.9], [6.0, 4.2], [6.25, 5.0], [7.4, 2.3], [7.65, 9.4], [8.8, 6.7], [9.05, 7.5], [10.0, 5.2], [10.25, 10.6], [11.4, 7.9], [11.65, 8.7], [12.8, 6.0], [13.05, 12.8], [14.2, 10.1], [14.45, 10.9], [15.6, 8.2], [15.85, 14.6], [17.0, 11.9], [17.25, 12.7], [18.4, 10.0], [18.65, 10.8], [19.8, 8.1], [20.05, 13.3], [21.2, 10.6], [21.45, 11.4], [22.6, 8.7], [22.85, 10.9], [23.75, 8.6]];
const walk57 = [[0, -0.4], [0.9, -2.4], [1.15, -1.7], [2.1, -3.9], [2.35, -1.2], [3.5, -3.9], [3.75, -3.1], [4.8, -5.6], [5.05, -4.8], [6.0, -7.0], [6.25, -3.4], [7.4, -6.1], [7.65, -5.3], [8.8, -8.0], [9.05, -7.2], [10.2, -9.9], [10.45, -7.1], [11.6, -9.8], [11.85, -9.0], [13.0, -11.7], [13.25, -10.9], [14.4, -13.6], [14.65, -8.9], [15.8, -11.6], [16.05, -10.8], [17.2, -13.5], [17.45, -12.7], [18.6, -15.4], [18.85, -11.3], [20.0, -14.0], [20.25, -13.2], [21.4, -15.9], [21.65, -12.1], [23.0, -15.2], [23.25, -14.4], [23.75, -15.6]];
const walk58 = [[0, -0.6], [1.1, -2.9], [1.35, -2.1], [2.4, -4.5], [2.65, -2.4], [3.8, -5.1], [4.05, -4.3], [5.2, -7.0], [5.45, -4.9], [6.6, -7.6], [6.85, -6.8], [8.0, -9.5], [8.25, -6.2], [9.4, -8.9], [9.65, -8.1], [10.8, -10.8], [11.05, -10.0], [12.2, -12.7], [12.45, -8.9], [13.6, -11.6], [13.85, -10.8], [15.0, -13.5], [15.25, -12.7], [16.4, -15.4], [16.65, -11.2], [17.8, -13.9], [18.05, -13.1], [19.2, -15.8], [19.45, -12.6], [20.6, -15.3], [20.85, -14.5], [22.0, -17.2], [22.25, -13.8], [23.75, -17.3]];
const walk59 = [[0, 0.1], [1.3, -2.2], [1.55, -1.4], [2.7, -4.1], [2.95, -0.6], [4.1, -3.3], [4.35, -2.5], [5.5, -5.2], [5.75, -4.4], [6.9, -7.1], [7.15, -2.9], [8.3, -5.6], [8.55, -4.8], [9.7, -7.5], [9.95, -6.7], [11.1, -9.4], [11.35, -5.6], [12.5, -8.3], [12.75, -7.5], [13.9, -10.2], [14.15, -9.4], [15.3, -12.1], [15.55, -7.3], [16.7, -10.0], [16.95, -9.2], [18.1, -11.9], [18.35, -11.1], [19.5, -13.8], [19.75, -9.6], [20.9, -12.3], [21.15, -11.5], [22.3, -14.2], [22.55, -10.4], [23.75, -12.9]];

const lineColors = {
    red: "#ff0000",
    green: "#00a000",
    blue: "#0000ff",
    magenta: "#ff40ff",
    cyan: "#40ffff",
    darkRed: "#a00000",
    yellow: "#ffff00",
    slate: "#5a5aff",
    black: "#000000"
};

// first entry ends up on top (Chart.js paints the list back to front)
const seriesList = [
    [zeroBlue, "blue"], [zeroRed, "red"],
    [redJump, "red"], [greenHigh, "green"], [cyanPeak, "cyan"], [magentaHigh, "magenta"],
    [magentaLate, "magenta"], [blueHigh, "blue"], [greenLate, "green"], [blueLowest, "blue"],
    [blueLow, "blue"], [darkRedLow, "darkRed"], [slateLow, "slate"], [cyanLow, "cyan"],
    [greenLow, "green"], [redLow, "red"],
    [walk01, "red"], [walk02, "green"], [walk03, "blue"], [walk04, "magenta"], [walk05, "cyan"],
    [walk06, "darkRed"], [walk07, "yellow"], [walk08, "slate"], [walk09, "black"], [walk10, "red"],
    [walk11, "green"], [walk12, "blue"], [walk13, "magenta"], [walk14, "cyan"], [walk15, "darkRed"],
    [walk16, "yellow"], [walk17, "slate"], [walk18, "black"], [walk19, "red"], [walk20, "green"],
    [walk21, "blue"], [walk22, "magenta"], [walk23, "cyan"], [walk24, "darkRed"], [walk25, "yellow"],
    [walk26, "slate"], [walk27, "black"], [walk28, "red"], [walk29, "green"], [walk30, "blue"],
    [walk31, "magenta"], [walk32, "cyan"], [walk33, "darkRed"], [walk34, "yellow"],
    [walk35, "green"], [walk36, "blue"], [walk37, "red"], [walk38, "black"], [walk39, "magenta"],
    [walk40, "cyan"], [walk41, "darkRed"], [walk42, "yellow"], [walk43, "slate"], [walk44, "black"],
    [walk45, "green"], [walk46, "red"], [walk47, "blue"], [walk48, "magenta"], [walk49, "cyan"],
    [walk50, "darkRed"], [walk51, "slate"], [walk52, "yellow"], [walk53, "yellow"], [walk54, "red"],
    [walk55, "blue"], [walk56, "black"], [walk57, "cyan"], [walk58, "magenta"], [walk59, "green"]
];

const labelFont = { family: "'DejaVu Sans Mono', 'Liberation Mono', monospace", size: 11.5, weight: "normal" };

// gnuplot style: plain border, ticks pointing inwards on all four sides
const frameTicks = {
    id: "frameTicks",
    beforeDatasetsDraw(chart) {
        const { ctx, chartArea: area, scales: { x, y } } = chart;
        const len = 5;
        ctx.save();
        ctx.strokeStyle = "#000000";
        ctx.lineWidth = 1;
        ctx.beginPath();
        for (const tick of x.ticks) {
            const px = Math.round(x.getPixelForValue(tick.value)) + 0.5;
            ctx.moveTo(px, area.bottom);
            ctx.lineTo(px, area.bottom - len);
            ctx.moveTo(px, area.top);
            ctx.lineTo(px, area.top + len);
        }
        for (const tick of y.ticks) {
            const py = Math.round(y.getPixelForValue(tick.value)) + 0.5;
            ctx.moveTo(area.left, py);
            ctx.lineTo(area.left + len, py);
            ctx.moveTo(area.right, py);
            ctx.lineTo(area.right - len, py);
        }
        ctx.stroke();
        ctx.strokeRect(area.left + 0.5, area.top + 0.5, area.right - area.left - 1, area.bottom - area.top - 1);
        ctx.restore();
    }
};

const datasets = seriesList.map(([points, colorName], i) => ({
    label: "series " + i,
    data: points.map(([hour, value]) => ({ x: hour, y: value })),
    borderColor: lineColors[colorName],
    borderWidth: 1,
    pointRadius: 0,
    tension: 0,
    fill: false
}));

new Chart(document.getElementById("zChart"), {
    type: "line",
    data: { datasets: datasets },
    options: {
        responsive: false,
        devicePixelRatio: 1,
        animation: false,
        events: [],
        layout: { padding: { left: 0, right: 19, top: 0, bottom: 0 } },
        plugins: {
            legend: { display: false },
            tooltip: { enabled: false },
            title: {
                display: true,
                text: chartTitle,
                fullSize: false,
                color: "#000000",
                font: labelFont,
                padding: { top: 8, bottom: 10 }
            }
        },
        scales: {
            x: {
                type: "linear",
                min: 0,
                max: 23.75,
                afterBuildTicks: (scale) => { scale.ticks = hourTicks.map(v => ({ value: v })); },
                afterFit: (scale) => { scale.height = 34; },
                grid: { display: false, drawTicks: false },
                border: { display: false },
                ticks: { color: "#000000", font: labelFont, padding: 6, maxRotation: 0, autoSkip: false },
                title: { display: true, text: xTitle, color: "#000000", font: labelFont, padding: { top: 0, bottom: 1 } }
            },
            y: {
                type: "linear",
                min: -40,
                max: 40,
                afterBuildTicks: (scale) => { scale.ticks = valueTicks.map(v => ({ value: v })); },
                afterFit: (scale) => { scale.width = 51; },
                grid: { display: false, drawTicks: false },
                border: { display: false },
                ticks: { color: "#000000", font: labelFont, padding: 7 },
                title: { display: true, text: yTitle, color: "#000000", font: labelFont, padding: { top: 5, bottom: 0 } }
            }
        }
    },
    plugins: [frameTicks]
});
</script>
</body>
</html>
